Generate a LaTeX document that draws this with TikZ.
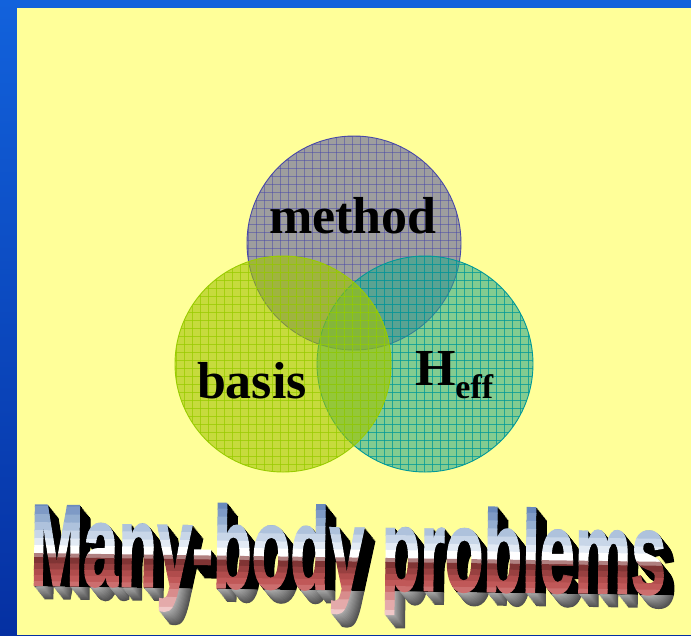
\documentclass[tikz,border=0pt]{standalone}
\usepackage{fontspec}
\setmainfont{Liberation Serif}
\newfontfamily\wafont{Liberation Sans Bold}[FakeBold=1.6]
\usepackage{graphicx}
\definecolor{bgyellow}{HTML}{FFFF99}
\definecolor{blueTop}{HTML}{1262DC}
\definecolor{blueBot}{HTML}{0530A2}
\definecolor{methodfill}{HTML}{9E9E9E}
\definecolor{methodline}{HTML}{4848A8}
\definecolor{basisfill}{HTML}{A0C400}
\definecolor{basisline}{HTML}{99CC00}
\definecolor{hefffill}{HTML}{2AA88A}
\definecolor{heffline}{HTML}{009999}
\definecolor{waA}{HTML}{6A8ABC}
\definecolor{waB}{HTML}{7E9AC6}
\definecolor{waC}{HTML}{94AED0}
\definecolor{waD}{HTML}{AEC2DC}
\definecolor{waE}{HTML}{C8D6E8}
\definecolor{waF}{HTML}{E2EAF4}
\definecolor{waG}{HTML}{FFFFFF}
\definecolor{waH}{HTML}{B08080}
\definecolor{waI}{HTML}{803434}
\definecolor{waJ}{HTML}{984040}
\definecolor{waK}{HTML}{B04C4C}
\definecolor{waL}{HTML}{C05858}
\definecolor{waM}{HTML}{CC6E6E}
\definecolor{waN}{HTML}{D88C8C}
\definecolor{waO}{HTML}{E4AAAA}
\definecolor{waP}{HTML}{F0C8C8}
\newcommand{\watext}{\wafont\fontsize{116}{116}\selectfont\scalebox{0.545}[1]{Many-body problems}}
\begin{document}
\begin{tikzpicture}[x=1pt,y=-1pt,
  lbl/.style={anchor=base,inner sep=0pt,outer sep=0pt,font=\bfseries\fontsize{52}{52}\selectfont,text=black},
  wa/.style={anchor=base west,inner sep=0pt,outer sep=0pt},
  gridline/.style={line width=0.5pt,opacity=0.75},
  mgridline/.style={line width=0.5pt,opacity=0.5}]
\useasboundingbox (0,0) rectangle (691,635);
\shade[top color=blueTop,bottom color=blueBot] (0,0) rectangle (691,635);
\fill[bgyellow] (17,8) rectangle (691,635);
% circles
\coordinate (cmethod) at (354,243);
\coordinate (cbasis) at (283,364);
\coordinate (cheff) at (425,364);
% method
\fill[methodfill] (cmethod) circle (107);
\begin{scope}
  \clip (cmethod) circle (107);
  \foreach \v in {240,248,...,472} \draw[methodline,mgridline] (\v,128) -- (\v,360);
  \foreach \v in {128,136,...,360} \draw[methodline,mgridline] (240,\v) -- (472,\v);
\end{scope}
\draw[methodline,line width=0.9pt] (cmethod) circle (107);
% heff
\fill[hefffill,opacity=0.58] (cheff) circle (108);
\begin{scope}
  \clip (cheff) circle (108);
  \foreach \v in {312,320,...,544} \draw[heffline,gridline] (\v,248) -- (\v,480);
  \foreach \v in {248,256,...,480} \draw[heffline,gridline] (312,\v) -- (544,\v);
\end{scope}
\draw[heffline,line width=0.9pt] (cheff) circle (108);
% basis
\fill[basisfill,opacity=0.6] (cbasis) circle (108);
\begin{scope}
  \clip (cbasis) circle (108);
  \foreach \v in {168,176,...,400} \draw[basisline,gridline] (\v,248) -- (\v,480);
  \foreach \v in {248,256,...,480} \draw[basisline,gridline] (168,\v) -- (400,\v);
\end{scope}
\draw[basisline,line width=0.9pt] (cbasis) circle (108);
% labels
\node[lbl] (lmethod) at (353,233) {method};
\node[lbl] (lbasis) at (252,398) {basis};
\node[lbl,anchor=base west] (lheff) at (415,385) {H\raisebox{-13pt}{\fontsize{34}{34}\selectfont eff}};
% WordArt title
\begin{scope}[rotate around={-0.8:(30,585)},transform shape]
  \begin{scope}
    \clip (0,470) rectangle (691,587);
    \foreach \k in {12,11,...,1}
      \node[wa,text=black] (exa\k) at (30+0.9*\k,585+1.1*\k) {\watext};
  \end{scope}
  \begin{scope}
    \clip (0,586.5) rectangle (691,640);
    \foreach \k in {12,11,...,1}{
      \pgfmathtruncatemacro{\g}{32+3*\k}
      \node[wa,text=black!\g] (exb\k) at (30+0.9*\k,585+1.1*\k) {\watext};
    }
  \end{scope}
  \foreach \ya/\yb/\c [count=\i] in {480/507/waA,506/515/waB,514/523/waC,522/531/waD,530/539/waE,538/546/waF,545/554/waG,553/558/waH,557/564/waI,563/570/waJ,569/576/waK,575/582/waL,581/588/waM,587/596/waN,595/606/waO,605/640/waP}{
    \begin{scope}
      \clip (0,\ya) rectangle (691,\yb);
      \node[wa,text=\c] (face\i) at (30,585) {\watext};
    \end{scope}
  }
\end{scope}
\end{tikzpicture}
\end{document}
